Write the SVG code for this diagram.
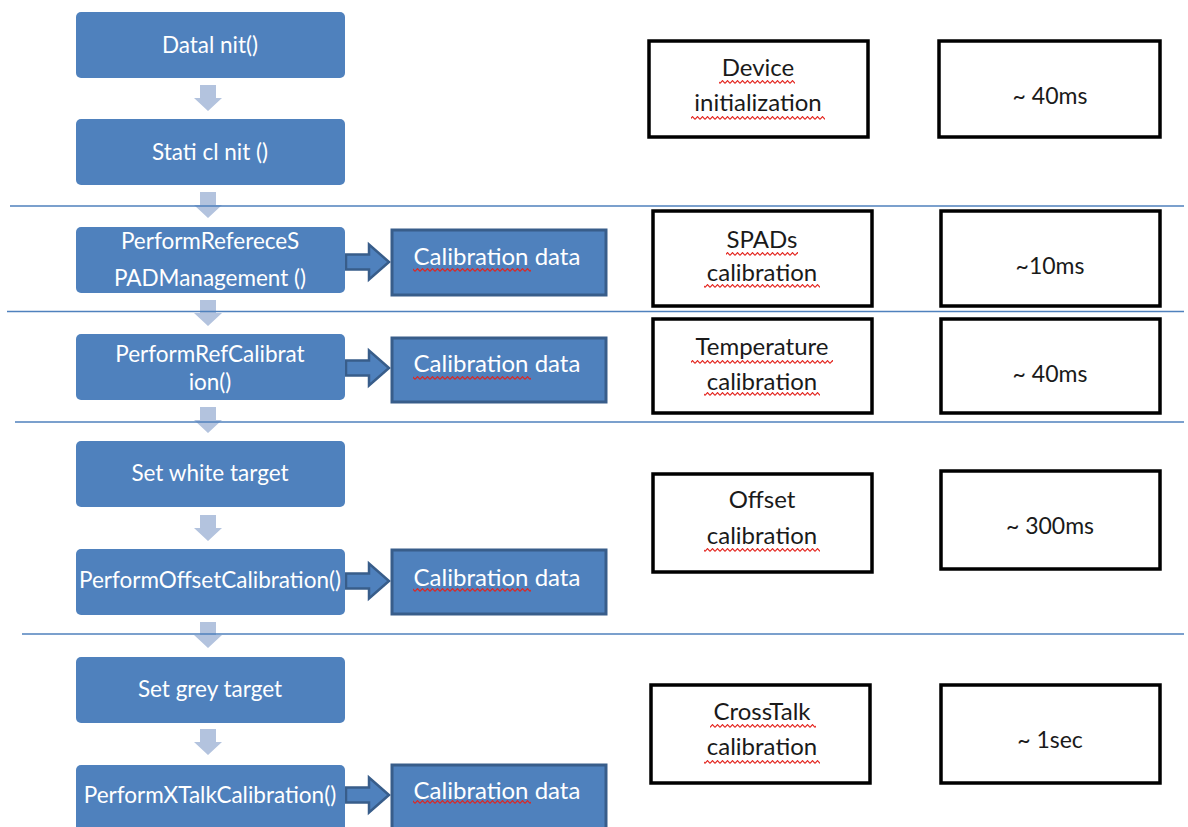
<svg xmlns="http://www.w3.org/2000/svg" width="1188" height="827" viewBox="0 0 1188 827">
  <style>
    .step { fill: #4f81bd; }
    .data { fill: #4f81bd; stroke: #385d8a; stroke-width: 3; }
    .push { fill: #4f81bd; stroke: #385d8a; stroke-width: 2.5; stroke-linejoin: miter; }
    .down { fill: #b3c3de; }
    .info { fill: #ffffff; stroke: #000000; stroke-width: 3.5; }
    .sep { stroke: #4f81bd; stroke-width: 1.5; fill: none; }
    .wt { fill: #ffffff; font-family: Lato, "Open Sans", sans-serif; font-size: 22.5px; text-anchor: middle; }
    .wd { fill: #ffffff; font-family: Lato, "Open Sans", sans-serif; font-size: 24px; text-anchor: middle; }
    .bt { fill: #1a1a1a; font-family: Lato, "Open Sans", sans-serif; font-size: 24px; text-anchor: middle; }
    .tm { fill: #1a1a1a; font-family: Lato, "Open Sans", sans-serif; font-size: 23px; text-anchor: middle; }
    .sq { fill: url(#wave); }
  </style>
  <defs>
    <!-- spell-check style wavy underline -->
    <pattern id="wave" width="5" height="4" patternUnits="userSpaceOnUse">
      <path d="M0,3.4 L2.5,0.6 L5,3.4" fill="none" stroke="#e3221c" stroke-width="1.1"/>
    </pattern>
    <path id="dn" d="M-8,0 H8 V13 H14 L0,26 L-14,13 H-8 Z"/>
    <path id="rt" d="M0,-7.5 H23 V-17.5 L43,0 L23,17.5 V7.5 H0 Z"/>
  </defs>

  <!-- flow arrows between the steps -->
  <g id="connectors">
    <use href="#dn" class="down" x="208" y="85"/>
    <use href="#dn" class="down" x="208" y="192"/>
    <use href="#dn" class="down" x="208" y="300"/>
    <use href="#dn" class="down" x="208" y="407"/>
    <use href="#dn" class="down" x="208" y="515"/>
    <use href="#dn" class="down" x="208" y="622"/>
    <use href="#dn" class="down" x="208" y="729"/>
    <use href="#rt" class="push" x="346" y="262"/>
    <use href="#rt" class="push" x="346" y="368"/>
    <use href="#rt" class="push" x="346" y="581"/>
    <use href="#rt" class="push" x="346" y="795"/>
  </g>

  <!-- section separators -->
  <g id="separators">
    <line class="sep" x1="10" y1="206" x2="1184" y2="206"/>
    <line class="sep" x1="7" y1="311.5" x2="1184" y2="311.5"/>
    <line class="sep" x1="15" y1="422" x2="1184" y2="422"/>
    <line class="sep" x1="22" y1="634" x2="1184" y2="634"/>
  </g>

  <!-- process steps -->
  <g id="step-datainit">
    <rect class="step" x="76" y="12" width="269" height="66" rx="5"/>
    <text class="wt" x="210" y="53">Datal nit()</text>
  </g>
  <g id="step-staticinit">
    <rect class="step" x="76" y="119" width="269" height="66" rx="5"/>
    <text class="wt" x="210" y="160">Stati cl nit ()</text>
  </g>
  <g id="step-spad">
    <rect class="step" x="76" y="227" width="269" height="66" rx="5"/>
    <text class="wt" x="210" y="249">PerformRefereceS</text>
    <text class="wt" x="210" y="286">PADManagement ()</text>
  </g>
  <g id="step-refcal">
    <rect class="step" x="76" y="334" width="269" height="66" rx="5"/>
    <text class="wt" x="210" y="362">PerformRefCalibrat</text>
    <text class="wt" x="210" y="390">ion()</text>
  </g>
  <g id="step-white">
    <rect class="step" x="76" y="441" width="269" height="66" rx="5"/>
    <text class="wt" x="210" y="481">Set white target</text>
  </g>
  <g id="step-offset">
    <rect class="step" x="76" y="549" width="269" height="66" rx="5"/>
    <text class="wt" x="210" y="588">PerformOffsetCalibration()</text>
  </g>
  <g id="step-grey">
    <rect class="step" x="76" y="657" width="269" height="66" rx="5"/>
    <text class="wt" x="210" y="697">Set grey target</text>
  </g>
  <g id="step-xtalk">
    <rect class="step" x="76" y="765" width="269" height="72" rx="5"/>
    <text class="wt" x="210" y="803">PerformXTalkCalibration()</text>
  </g>

  <!-- calibration data outputs -->
  <g id="data-spad">
    <rect class="data" x="392" y="230" width="214" height="65"/>
    <text class="wd" x="497" y="265">Calibration data</text>
    <rect class="sq" x="413" y="268" width="118" height="4"/>
  </g>
  <g id="data-refcal">
    <rect class="data" x="392" y="338" width="214" height="64"/>
    <text class="wd" x="497" y="372">Calibration data</text>
    <rect class="sq" x="413" y="376" width="118" height="4"/>
  </g>
  <g id="data-offset">
    <rect class="data" x="392" y="550" width="214" height="64"/>
    <text class="wd" x="497" y="586">Calibration data</text>
    <rect class="sq" x="413" y="588" width="118" height="4"/>
  </g>
  <g id="data-xtalk">
    <rect class="data" x="392" y="765" width="214" height="72"/>
    <text class="wd" x="497" y="799">Calibration data</text>
    <rect class="sq" x="413" y="800" width="118" height="4"/>
  </g>

  <!-- phase descriptions -->
  <g id="phase-device">
    <rect class="info" x="649" y="41" width="219" height="96"/>
    <text class="bt" x="758" y="76">Device</text>
    <rect class="sq" x="719" y="80" width="76" height="4"/>
    <text class="bt" x="758" y="111">initialization</text>
    <rect class="sq" x="691" y="116" width="134" height="4"/>
  </g>
  <g id="phase-spad">
    <rect class="info" x="653" y="211" width="219" height="95"/>
    <text class="bt" x="762" y="248">SPADs</text>
    <rect class="sq" x="726" y="252" width="72" height="4"/>
    <text class="bt" x="762" y="281">calibration</text>
    <rect class="sq" x="704" y="284" width="116" height="4"/>
  </g>
  <g id="phase-temp">
    <rect class="info" x="653" y="319" width="219" height="94"/>
    <text class="bt" x="762" y="355">Temperature</text>
    <rect class="sq" x="691" y="360" width="142" height="4"/>
    <text class="bt" x="762" y="390">calibration</text>
    <rect class="sq" x="704" y="392" width="116" height="4"/>
  </g>
  <g id="phase-offset">
    <rect class="info" x="653" y="474" width="219" height="98"/>
    <text class="bt" x="762" y="508">Offset</text>
    <text class="bt" x="762" y="544">calibration</text>
    <rect class="sq" x="704" y="548" width="116" height="4"/>
  </g>
  <g id="phase-xtalk">
    <rect class="info" x="651" y="685" width="219" height="98"/>
    <text class="bt" x="762" y="720">CrossTalk</text>
    <rect class="sq" x="710" y="724" width="106" height="4"/>
    <text class="bt" x="762" y="755">calibration</text>
    <rect class="sq" x="704" y="760" width="116" height="4"/>
  </g>

  <!-- durations -->
  <g id="time-device">
    <rect class="info" x="939" y="41" width="221" height="96"/>
    <text class="tm" x="1050" y="104">~ 40ms</text>
  </g>
  <g id="time-spad">
    <rect class="info" x="941" y="211" width="219" height="95"/>
    <text class="tm" x="1050" y="274">~10ms</text>
  </g>
  <g id="time-temp">
    <rect class="info" x="941" y="319" width="219" height="94"/>
    <text class="tm" x="1050" y="382">~ 40ms</text>
  </g>
  <g id="time-offset">
    <rect class="info" x="941" y="471" width="219" height="98"/>
    <text class="tm" x="1050" y="534">~ 300ms</text>
  </g>
  <g id="time-xtalk">
    <rect class="info" x="941" y="685" width="219" height="98"/>
    <text class="tm" x="1050" y="748">~ 1sec</text>
  </g>
</svg>
